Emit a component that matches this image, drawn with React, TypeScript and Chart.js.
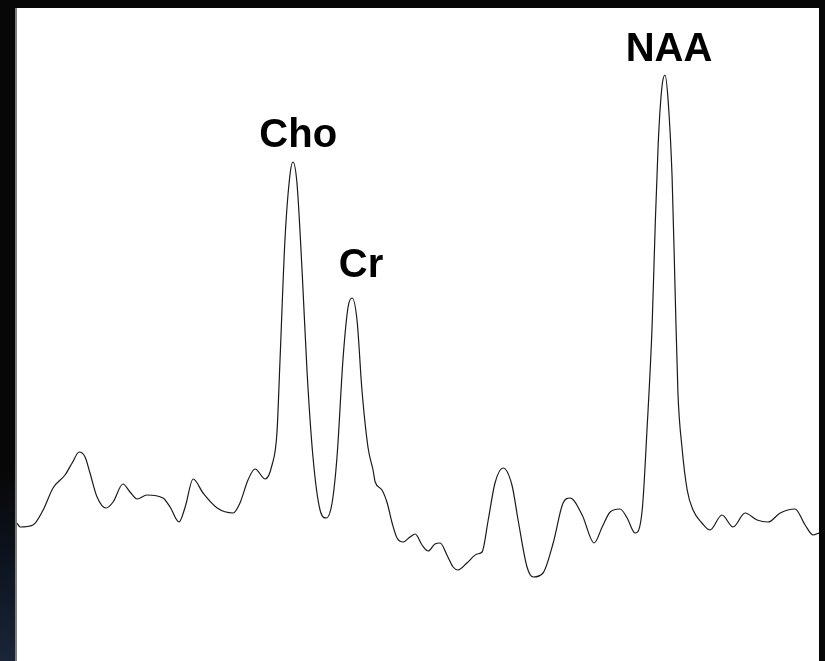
import React, { useEffect, useRef } from "react";
import { Chart, registerables } from "chart.js";

Chart.register(...registerables);

// Chemical shift (ppm), read left-to-right across the spectrum (descending ppm)
const ppm = [
  4.118, 4.108, 4.066, 4.033, 4.001, 3.962, 3.939, 3.916, 3.897, 3.881,
  3.858, 3.829, 3.806, 3.774, 3.751, 3.728, 3.696, 3.644, 3.621, 3.592,
  3.572, 3.546, 3.514, 3.468, 3.416, 3.394, 3.368, 3.345, 3.312, 3.290,
  3.274, 3.264, 3.248, 3.231, 3.222, 3.209, 3.192, 3.176, 3.157, 3.134,
  3.114, 3.095, 3.079, 3.059, 3.043, 3.030, 3.014, 2.998, 2.978, 2.962,
  2.955, 2.933, 2.916, 2.900, 2.884, 2.864, 2.842, 2.825, 2.803, 2.783,
  2.761, 2.744, 2.722, 2.702, 2.686, 2.657, 2.624, 2.608, 2.588, 2.566,
  2.540, 2.511, 2.491, 2.462, 2.442, 2.410, 2.377, 2.345, 2.322, 2.283,
  2.244, 2.218, 2.192, 2.160, 2.137, 2.111, 2.088, 2.072, 2.056, 2.046,
  2.036, 2.024, 2.014, 2.004, 1.991, 1.981, 1.972, 1.959, 1.942, 1.923,
  1.894, 1.868, 1.829, 1.793, 1.754, 1.715, 1.679, 1.640, 1.592, 1.559,
  1.533, 1.514,
];

// Signal intensity (arbitrary units)
const intensity = [
  0.17, 0.13, 0.15, 0.30, 0.52, 0.65, 0.77, 0.88, 0.83, 0.67,
  0.43, 0.32, 0.38, 0.56, 0.48, 0.41, 0.45, 0.42, 0.33, 0.18,
  0.33, 0.61, 0.47, 0.32, 0.27, 0.37, 0.60, 0.71, 0.61, 0.75,
  1.07, 1.80, 3.00, 3.67, 3.78, 3.57, 2.67, 1.67, 0.83, 0.30,
  0.22, 0.37, 0.83, 1.83, 2.33, 2.42, 2.20, 1.50, 0.92, 0.70,
  0.58, 0.50, 0.37, 0.17, 0.02, -0.02, 0.03, 0.06, -0.05, -0.11,
  -0.04, -0.03, -0.15, -0.27, -0.30, -0.23, -0.14, -0.12, 0.20, 0.57,
  0.72, 0.55, 0.20, -0.27, -0.37, -0.33, -0.03, 0.37, 0.42, 0.25,
  -0.03, 0.13, 0.28, 0.31, 0.22, 0.07, 0.30, 1.13, 2.13, 3.13,
  3.97, 4.53, 4.65, 4.40, 3.63, 2.47, 1.47, 0.93, 0.50, 0.30,
  0.17, 0.10, 0.25, 0.13, 0.27, 0.20, 0.18, 0.27, 0.31, 0.15,
  0.05, 0.07,
];

// Peak labels
const labelNames = ["Cho", "Cr", "NAA"];
const labelPpm = [3.205, 3.001, 2.001];
const labelIntensity = [3.93, 2.63, 4.79];

const peakLabelPlugin = {
  id: "peakLabels",
  afterDatasetsDraw(chart: any) {
    const { ctx, scales } = chart;
    ctx.save();
    ctx.fillStyle = "#000000";
    ctx.font = 'bold 40px "Liberation Sans", Arial, Helvetica, sans-serif';
    ctx.textAlign = "center";
    ctx.textBaseline = "alphabetic";
    labelNames.forEach((name, i) => {
      const x = scales.x.getPixelForValue(labelPpm[i]);
      const y = scales.y.getPixelForValue(labelIntensity[i]);
      ctx.fillText(name, x, y);
    });
    ctx.restore();
  },
};

export default function App() {
  const canvasRef = useRef<HTMLCanvasElement | null>(null);

  useEffect(() => {
    if (!canvasRef.current) return;
    const data = ppm.map((p, i) => ({ x: p, y: intensity[i] }));
    const chart = new Chart(canvasRef.current, {
      type: "line",
      data: {
        datasets: [
          {
            data,
            borderColor: "#1a1a1a",
            borderWidth: 1.2,
            pointRadius: 0,
            fill: false,
            cubicInterpolationMode: "monotone",
          },
        ],
      },
      options: {
        animation: false,
        responsive: false,
        maintainAspectRatio: false,
        devicePixelRatio: 1,
        layout: { padding: 0 },
        plugins: {
          legend: { display: false },
          tooltip: { enabled: false },
          title: { display: false },
        },
        scales: {
          x: {
            type: "linear",
            reverse: true,
            min: 1.514,
            max: 4.118,
            display: false,
          },
          y: {
            type: "linear",
            min: -1.21,
            max: 5.32,
            display: false,
          },
        },
      },
      plugins: [peakLabelPlugin],
    });
    return () => chart.destroy();
  }, []);

  return (
    <div
      style={{
        position: "fixed",
        left: 0,
        top: 0,
        width: 825,
        height: 661,
        background: "#070707",
        overflow: "hidden",
      }}
    >
      <div
        style={{
          position: "absolute",
          left: 0,
          top: 0,
          width: 15,
          height: 661,
          background:
            "linear-gradient(to bottom, #070707 0px, #070707 470px, #0d1420 560px, #1a2538 661px)",
        }}
      />
      <div
        style={{
          position: "absolute",
          left: 15,
          top: 8,
          width: 2,
          height: 653,
          background: "#7d7d7d",
        }}
      />
      <div
        style={{
          position: "absolute",
          left: 17,
          top: 8,
          width: 802,
          height: 653,
          background: "#ffffff",
        }}
      >
        <canvas
          ref={canvasRef}
          width={802}
          height={653}
          style={{ display: "block", width: 802, height: 653 }}
        />
      </div>
    </div>
  );
}
